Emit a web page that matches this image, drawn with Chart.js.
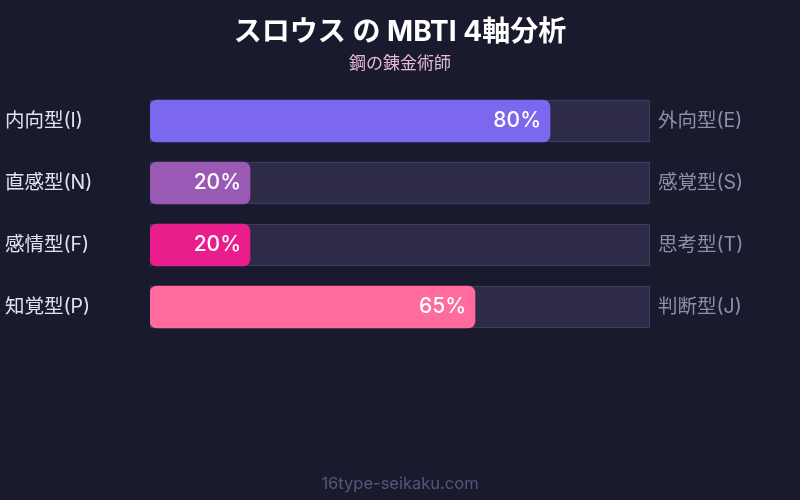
<!DOCTYPE html>
<html>
<head>
<meta charset="utf-8">
<script src="https://cdn.jsdelivr.net/npm/chart.js@4"></script>
<style>
  html, body { margin: 0; padding: 0; background: #1a1a2e; }
  #wrap { width: 800px; height: 500px; }
</style>
</head>
<body>
<div id="wrap"><canvas id="chartMbti"></canvas></div>
<script>
const titulo = "スロウス の MBTI 4軸分析";
const subtitulo = "鋼の錬金術師";
const rodape = "16type-seikaku.com";

const eixosEsquerda = ["内向型(I)", "直感型(N)", "感情型(F)", "知覚型(P)"];
const eixosDireita = ["外向型(E)", "感覚型(S)", "思考型(T)", "判断型(J)"];
const percentuais = [80, 20, 20, 65];
const trilha = [100, 100, 100, 100];
const cores = ["#7b68ee", "#9b59b6", "#e91e8c", "#ff6b9d"];

const FONTE = "Inter, 'Noto Sans CJK JP', sans-serif";

// desenha titulo, rotulos dos eixos e percentuais
const textosPlugin = {
  id: "textos",
  afterDatasetsDraw(chart) {
    const ctx = chart.ctx;
    const area = chart.chartArea;
    const yScale = chart.scales.y;
    const metaValor = chart.getDatasetMeta(0);
    ctx.save();
    ctx.textBaseline = "middle";

    ctx.textAlign = "center";
    ctx.fillStyle = "#ffffff";
    ctx.font = "bold 28px " + FONTE;
    ctx.fillText(titulo, chart.width / 2, 33);
    ctx.fillStyle = "#e6b8dc";
    ctx.font = "17px " + FONTE;
    ctx.fillText(subtitulo, chart.width / 2, 64);

    eixosEsquerda.forEach((txt, i) => {
      const y = yScale.getPixelForValue(i);
      ctx.font = "19.5px " + FONTE;
      ctx.textAlign = "left";
      ctx.fillStyle = "#e2e2ee";
      ctx.fillText(txt, 5, y);
      ctx.fillStyle = "#8e8ea6";
      ctx.fillText(eixosDireita[i], area.right + 8, y);

      const bar = metaValor.data[i];
      ctx.font = "500 21px " + FONTE;
      ctx.textAlign = "right";
      ctx.fillStyle = "#ffffff";
      ctx.fillText(percentuais[i] + "%", bar.x - 9, y);
    });

    ctx.textAlign = "center";
    ctx.fillStyle = "#56567a";
    ctx.font = "16.5px " + FONTE;
    ctx.fillText(rodape, chart.width / 2, 484);
    ctx.restore();
  },
};

new Chart(document.getElementById("chartMbti"), {
  type: "bar",
  data: {
    labels: eixosEsquerda,
    datasets: [
      {
        data: percentuais,
        backgroundColor: cores,
        borderRadius: 7,
        borderSkipped: false,
        barThickness: 42,
        grouped: false,
      },
      {
        data: trilha,
        backgroundColor: "#2d2b47",
        borderColor: "#45436a",
        borderWidth: 1,
        borderSkipped: false,
        barThickness: 42,
        grouped: false,
      },
    ],
  },
  options: {
    indexAxis: "y",
    responsive: true,
    maintainAspectRatio: false,
    animation: false,
    layout: {
      padding: { left: 150, right: 150, top: 90, bottom: 162 },
    },
    plugins: {
      legend: { display: false },
      tooltip: { enabled: false },
      title: { display: false },
    },
    scales: {
      x: { min: 0, max: 100, display: false },
      y: { display: false, offset: true },
    },
  },
  plugins: [textosPlugin],
});
</script>
</body>
</html>
